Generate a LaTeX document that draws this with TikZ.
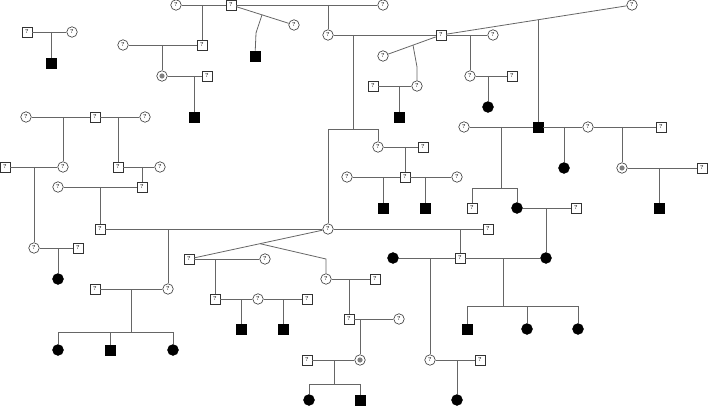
\documentclass[tikz,border=0pt]{standalone}
\begin{document}
\begin{tikzpicture}[x=1pt,y=-1pt,
  ln/.style={draw=black!60,line width=0.8pt},
  sq/.style={rectangle,draw=black!80,line width=0.6pt,fill=white,minimum size=10pt,inner sep=0pt,font=\fontsize{5.5}{5.5}\selectfont\bfseries},
  ci/.style={circle,draw=black!80,line width=0.6pt,fill=white,minimum size=10.5pt,inner sep=0pt,font=\fontsize{5.5}{5.5}\selectfont\bfseries},
  fsq/.style={rectangle,fill=black,draw=black,minimum size=10.5pt,inner sep=0pt},
  fci/.style={circle,fill=black,draw=black,minimum size=11pt,inner sep=0pt},
  car/.style={circle,draw=black!80,line width=0.6pt,fill=white,minimum size=10.5pt,inner sep=0pt,
    path picture={\fill[black!50] (path picture bounding box.center) circle (2.6pt);}}
]
\useasboundingbox (0,0) rectangle (709,406);

% ---------- top left ----------
\node[sq] (a1) at (27,32) {?};
\node[ci] (a2) at (72,32) {?};
\node[fsq] (a3) at (51,63) {};
\coordinate (ma) at (51,32);
\draw[ln] (a1) -- (a2);
\draw[ln] (ma) -- (a3);

% ---------- top ----------
\node[ci] (b1) at (176,5) {?};
\node[sq] (b2) at (231,5) {?};
\node[ci] (b3) at (383,5) {?};
\node[ci] (b4) at (294,25) {?};
\node[fsq] (b5) at (255,56) {};
\draw[ln] (b1) -- (b2);
\draw[ln] (b2) -- (b3);
\draw[ln] (b2) -- (b4);
\coordinate (mb1) at (202,5);
\node[sq] (c2) at (202,45) {?};
\draw[ln] (mb1) -- (c2);
\coordinate (mb2) at (262,14.8);
\coordinate (kb2) at (256,33);
\draw[ln] (mb2) -- (kb2) -- (b5);
\coordinate (mb3) at (328,5);
\node[ci] (d1) at (328,35) {?};
\draw[ln] (mb3) -- (d1);

\node[ci] (c1) at (123,45) {?};
\draw[ln] (c1) -- (c2);
\coordinate (mc) at (162,45);
\node[car] (c3) at (162,76) {};
\node[sq] (c4) at (207,76) {?};
\draw[ln] (mc) -- (c3);
\draw[ln] (c3) -- (c4);
\coordinate (mc2) at (194,76);
\node[fsq] (c5) at (194,117) {};
\draw[ln] (mc2) -- (c5);

% ---------- centre top ----------
\node[sq] (d2) at (441,35) {?};
\node[ci] (d3) at (493,35) {?};
\node[ci] (d4) at (632,5) {?};
\node[ci] (d5) at (383,56) {?};
\draw[ln] (d1) -- (d2);
\draw[ln] (d2) -- (d3);
\draw[ln] (d2) -- (d4);
\draw[ln] (d2) -- (d5);
\coordinate (md1) at (353,35);
\coordinate (sd1) at (353,129);
\draw[ln] (md1) -- (sd1);
\node[ci] (hub) at (328,229) {?};
\node[ci] (e1) at (378,147) {?};
\draw[ln] (hub) -- (hub |- sd1) -- (e1 |- sd1) -- (e1);

\coordinate (md2) at (413,45.1);
\coordinate (kd2) at (417,67);
\node[ci] (d6) at (417,86) {?};
\draw[ln] (md2) -- (kd2) -- (d6);
\node[sq] (d7) at (373,86) {?};
\draw[ln] (d7) -- (d6);
\coordinate (md3) at (399,86);
\node[fsq] (d8) at (399,117) {};
\draw[ln] (md3) -- (d8);
\coordinate (md4) at (470,35);
\node[ci] (d9) at (470,76) {?};
\draw[ln] (md4) -- (d9);
\node[sq] (d10) at (512,76) {?};
\draw[ln] (d9) -- (d10);
\coordinate (md5) at (488,76);
\node[fci] (d11) at (488,107) {};
\draw[ln] (md5) -- (d11);
\coordinate (md6) at (538,19.8);
\node[fsq] (f2) at (538,127) {};
\draw[ln] (md6) -- (f2);

% ---------- e group ----------
\node[sq] (e2) at (423,147) {?};
\draw[ln] (e1) -- (e2);
\coordinate (me1) at (405,147);
\node[sq] (e3) at (405,177) {?};
\draw[ln] (me1) -- (e3);
\node[ci] (e4) at (347,177) {?};
\node[ci] (e5) at (457,177) {?};
\draw[ln] (e4) -- (e3);
\draw[ln] (e3) -- (e5);
\coordinate (me2) at (383,177);
\node[fsq] (e6) at (383,208) {};
\draw[ln] (me2) -- (e6);
\coordinate (me3) at (425,177);
\node[fsq] (e7) at (425,208) {};
\draw[ln] (me3) -- (e7);

% ---------- right ----------
\node[ci] (f1) at (464,127) {?};
\node[ci] (f3) at (588,127) {?};
\node[sq] (f4) at (661,127) {?};
\draw[ln] (f1) -- (f2);
\draw[ln] (f2) -- (f3);
\draw[ln] (f3) -- (f4);
\coordinate (mf1) at (501,127);
\coordinate (sf1) at (501,188);
\draw[ln] (mf1) -- (sf1);
\node[sq] (f5) at (472,208) {?};
\node[fci] (f6) at (517,208) {};
\draw[ln] (f5) -- (f5 |- sf1) -- (f6 |- sf1) -- (f6);
\coordinate (mf2) at (564,127);
\node[fci] (f7) at (564,168) {};
\draw[ln] (mf2) -- (f7);
\coordinate (mf3) at (622,127);
\node[car] (f8) at (622,168) {};
\draw[ln] (mf3) -- (f8);
\node[sq] (f9) at (702,168) {?};
\draw[ln] (f8) -- (f9);
\coordinate (mf4) at (659,168);
\node[fsq] (f10) at (659,208) {};
\draw[ln] (mf4) -- (f10);
\node[sq] (f11) at (576,208) {?};
\draw[ln] (f6) -- (f11);
\coordinate (mf5) at (546,208);
\node[fci] (g3) at (546,258) {};
\draw[ln] (mf5) -- (g3);

% ---------- g group ----------
\node[sq] (g0) at (488,229) {?};
\draw[ln] (hub) -- (g0);
\coordinate (mg0) at (460,229);
\node[sq] (g2) at (460,258) {?};
\draw[ln] (mg0) -- (g2);
\node[fci] (g1) at (393,258) {};
\draw[ln] (g1) -- (g2);
\draw[ln] (g2) -- (g3);
\coordinate (mg1) at (430,258);
\node[ci] (g4) at (430,360) {?};
\draw[ln] (mg1) -- (g4);
\node[sq] (g5) at (480,360) {?};
\draw[ln] (g4) -- (g5);
\coordinate (mg2) at (457,360);
\node[fci] (g6) at (457,400) {};
\draw[ln] (mg2) -- (g6);
\coordinate (mg3) at (503,258);
\coordinate (sg3) at (503,306);
\draw[ln] (mg3) -- (sg3);
\node[fsq] (g7) at (467,329) {};
\node[fci] (g8) at (527,329) {};
\node[fci] (g9) at (578,329) {};
\draw[ln] (g7) -- (g7 |- sg3) -- (g9 |- sg3) -- (g9);
\draw[ln] (g8) -- (g8 |- sg3);

% ---------- left ----------
\node[ci] (h1) at (26,117) {?};
\node[sq] (h2) at (95,117) {?};
\node[ci] (h3) at (145,117) {?};
\draw[ln] (h1) -- (h2);
\draw[ln] (h2) -- (h3);
\coordinate (mh1) at (63,117);
\node[ci] (h5) at (63,167) {?};
\draw[ln] (mh1) -- (h5);
\coordinate (mh2) at (118,117);
\node[sq] (h6) at (118,167) {?};
\draw[ln] (mh2) -- (h6);
\node[sq] (h4) at (5,167) {?};
\draw[ln] (h4) -- (h5);
\coordinate (mh3) at (34,167);
\node[ci] (i1) at (34,248) {?};
\draw[ln] (mh3) -- (i1);
\node[ci] (h7) at (160,167) {?};
\draw[ln] (h6) -- (h7);
\coordinate (mh4) at (142,167);
\node[sq] (h9) at (142,187) {?};
\draw[ln] (mh4) -- (h9);
\node[ci] (h8) at (58,187) {?};
\draw[ln] (h8) -- (h9);
\coordinate (mh5) at (100,187);
\node[sq] (j1) at (100,229) {?};
\draw[ln] (mh5) -- (j1);
\node[sq] (i2) at (78,248) {?};
\draw[ln] (i1) -- (i2);
\coordinate (mi) at (58,248);
\node[fci] (i3) at (58,279) {};
\draw[ln] (mi) -- (i3);
\draw[ln] (j1) -- (hub);
\coordinate (mj) at (168,229);
\node[ci] (j2) at (168,289) {?};
\draw[ln] (mj) -- (j2);
\node[sq] (j3) at (95,289) {?};
\draw[ln] (j3) -- (j2);
\coordinate (mj2) at (131,289);
\coordinate (sj2) at (131,332);
\draw[ln] (mj2) -- (sj2);
\node[fci] (j4) at (58,350) {};
\node[fsq] (j5) at (110,350) {};
\node[fci] (j6) at (173,350) {};
\draw[ln] (j4) -- (j4 |- sj2) -- (j6 |- sj2) -- (j6);
\draw[ln] (j5) -- (j5 |- sj2);

% ---------- k group ----------
\node[sq] (k1) at (189,259) {?};
\node[ci] (k2) at (265,259) {?};
\draw[ln] (hub) -- (k1);
\draw[ln] (k1) -- (k2);
\coordinate (mk1) at (260,243.7);
\coordinate (kk1) at (326,259);
\node[ci] (k8) at (326,279) {?};
\draw[ln] (mk1) -- (kk1) -- (k8);
\coordinate (mk2) at (215,259);
\node[sq] (k3) at (215,299) {?};
\draw[ln] (mk2) -- (k3);
\node[ci] (k4) at (258,299) {?};
\node[sq] (k5) at (307,299) {?};
\draw[ln] (k3) -- (k4);
\draw[ln] (k4) -- (k5);
\coordinate (mk3) at (241,299);
\node[fsq] (k6) at (241,329) {};
\draw[ln] (mk3) -- (k6);
\coordinate (mk4) at (283,299);
\node[fsq] (k7) at (283,329) {};
\draw[ln] (mk4) -- (k7);
\node[sq] (k9) at (375,279) {?};
\draw[ln] (k8) -- (k9);
\coordinate (mk5) at (349,279);
\node[sq] (l1) at (349,319) {?};
\draw[ln] (mk5) -- (l1);
\node[ci] (l2) at (399,319) {?};
\draw[ln] (l1) -- (l2);
\coordinate (ml1) at (360,319);
\node[car] (l3) at (360,360) {};
\draw[ln] (ml1) -- (l3);
\node[sq] (l4) at (307,360) {?};
\draw[ln] (l4) -- (l3);
\coordinate (ml2) at (334,360);
\coordinate (sl2) at (334,384);
\draw[ln] (ml2) -- (sl2);
\node[fci] (l5) at (309,400) {};
\node[fsq] (l6) at (360,400) {};
\draw[ln] (l5) -- (l5 |- sl2) -- (l6 |- sl2) -- (l6);
\end{tikzpicture}
\end{document}
